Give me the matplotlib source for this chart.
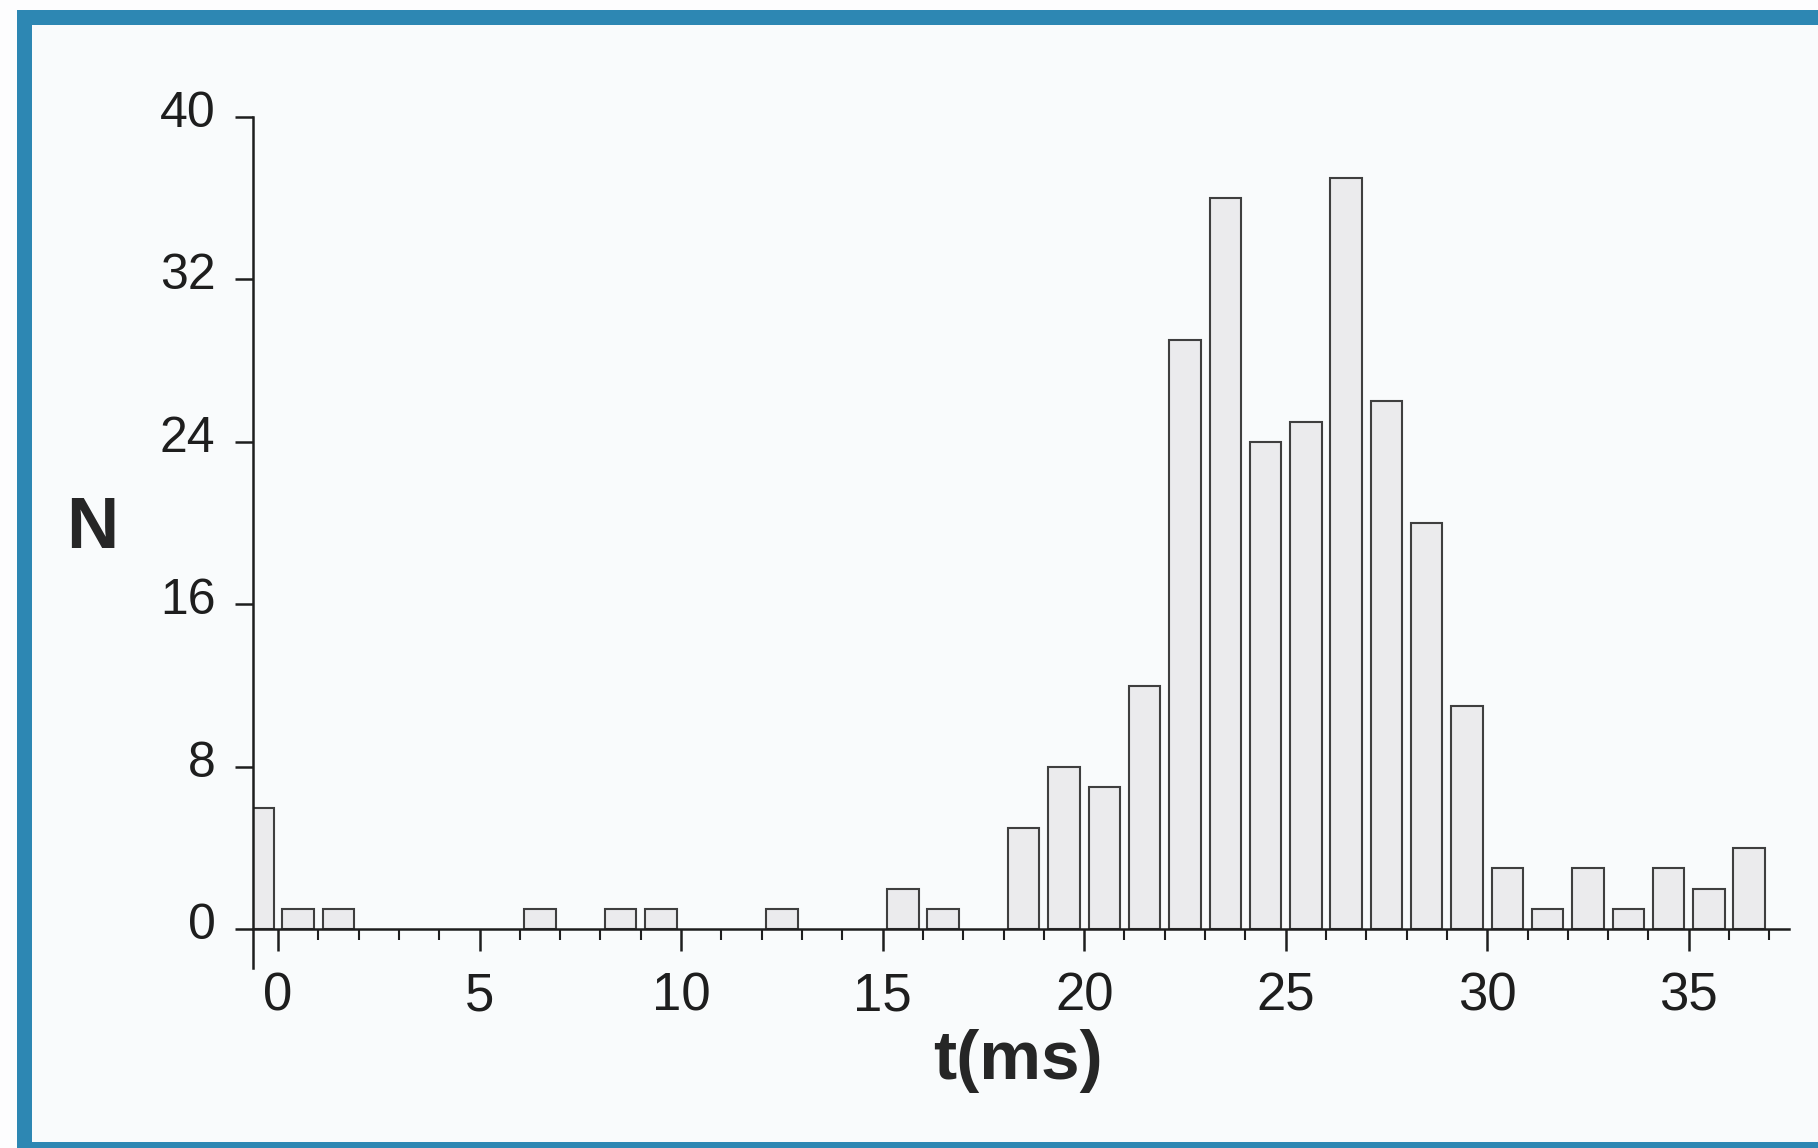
import matplotlib
matplotlib.use("Agg")
import matplotlib.pyplot as plt
import matplotlib.transforms as mtransforms
from matplotlib.patches import Rectangle
from matplotlib.ticker import MultipleLocator

plt.rcParams['font.family'] = ['Liberation Sans', 'DejaVu Sans']

# Histogram bins (1 ms wide, centred on half-integers) and counts
bin_centers = [-0.5, 0.5, 1.5, 2.5, 3.5, 4.5, 5.5, 6.5, 7.5, 8.5, 9.5, 10.5,
               11.5, 12.5, 13.5, 14.5, 15.5, 16.5, 17.5, 18.5, 19.5, 20.5,
               21.5, 22.5, 23.5, 24.5, 25.5, 26.5, 27.5, 28.5, 29.5, 30.5,
               31.5, 32.5, 33.5, 34.5, 35.5, 36.5]
counts = [6, 1, 1, 0, 0, 0, 0, 1, 0, 1, 1, 0,
          0, 1, 0, 0, 2, 1, 0, 5, 8, 7,
          12, 29, 36, 24, 25, 37, 26, 20, 11, 3,
          1, 3, 1, 3, 2, 4]

x_ticks = [0, 5, 10, 15, 20, 25, 30, 35]
y_ticks = [0, 8, 16, 24, 32, 40]

fig = plt.figure(figsize=(18.18, 11.48), dpi=100)
fig.patch.set_facecolor('#fdfdfe')

# blue frame of the printed figure
blue = '#2d87b3'
fig.add_artist(Rectangle((17 / 1818, 0), 1 - 17 / 1818, 1 - 10 / 1148,
                         transform=fig.transFigure, facecolor='#f9fbfc',
                         edgecolor='none', zorder=-2))
fig.add_artist(Rectangle((17 / 1818, 1 - 25 / 1148), 1, 15 / 1148,
                         transform=fig.transFigure, facecolor=blue, edgecolor='none'))
fig.add_artist(Rectangle((17 / 1818, 0), 15 / 1818, 1 - 10 / 1148,
                         transform=fig.transFigure, facecolor=blue, edgecolor='none'))
fig.add_artist(Rectangle((17 / 1818, 0), 1, 6 / 1148,
                         transform=fig.transFigure, facecolor=blue, edgecolor='none'))

ax = fig.add_axes([0.1392, 0.1568, 0.8449, 0.7413])
ax.patch.set_alpha(0)

nz = [(c, n) for c, n in zip(bin_centers, counts) if n > 0]
ax.bar([c for c, n in nz], [n for c, n in nz], width=0.78,
       color='#ebebed', edgecolor='#3f3f3f', linewidth=1.5, zorder=2)

ax.set_xlim(-0.62, 37.49)
ax.set_ylim(-1.9, 40)

ax.spines['top'].set_visible(False)
ax.spines['right'].set_visible(False)
ax.spines['bottom'].set_position(('data', 0))
for s in ('left', 'bottom'):
    ax.spines[s].set_linewidth(1.8)
    ax.spines[s].set_color('#1e1e1e')
    ax.spines[s].set_zorder(3)

ax.set_xticks(x_ticks)
ax.set_yticks(y_ticks)
ax.xaxis.set_minor_locator(MultipleLocator(1))
ax.tick_params(axis='x', which='major', direction='out', length=16, width=1.8,
               labelsize=38, pad=14, colors='#1e1e1e')
ax.tick_params(axis='x', which='minor', direction='out', length=8, width=1.5,
               colors='#1e1e1e')
ax.tick_params(axis='y', which='major', direction='out', length=13, width=1.8,
               labelsize=36, pad=14, colors='#1e1e1e')

offset = mtransforms.ScaledTranslation(0, 6 / 72, fig.dpi_scale_trans)
for lab in ax.get_yticklabels():
    lab.set_transform(lab.get_transform() + offset)

fig.text(0.051, 0.539, 'N', fontsize=52, fontweight='bold', color='#262626',
         ha='center', va='center')
fig.text(0.560, 0.076, 't(ms)', fontsize=50, fontweight='bold', color='#262626',
         ha='center', va='center')

fig.savefig('out.png', dpi=100, facecolor=fig.get_facecolor())
